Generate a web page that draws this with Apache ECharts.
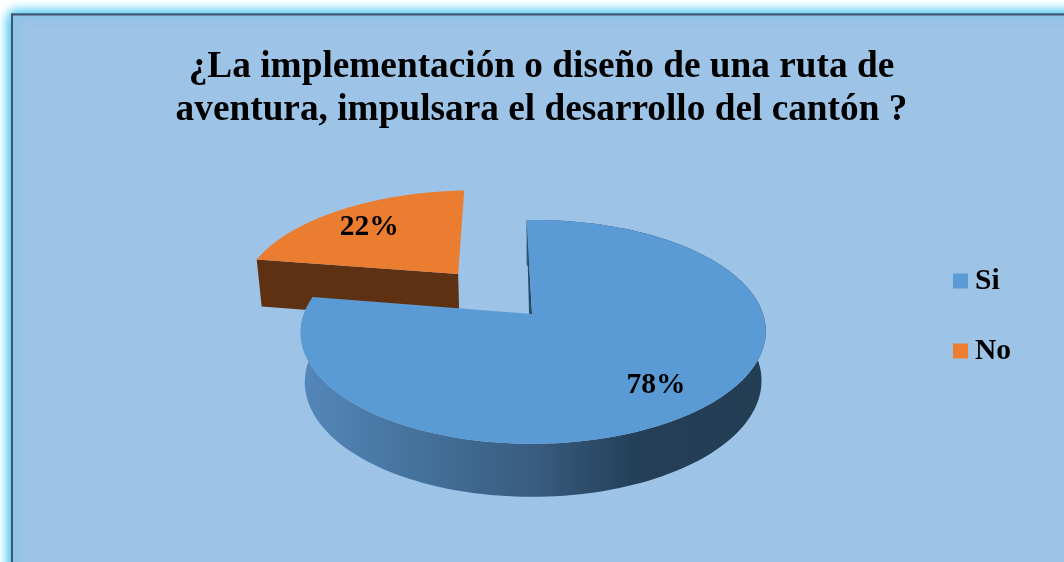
<!DOCTYPE html>
<html><head><meta charset="utf-8">
<style>html,body{margin:0;padding:0;background:#fff;overflow:hidden}#c{width:1064px;height:562px}</style>
<script src="https://cdn.jsdelivr.net/npm/echarts@6/dist/echarts.min.js"></script>
</head><body><div id="c"></div>
<script>
const titleLines = ['¿La implementación o diseño de una ruta de', 'aventura, impulsara el desarrollo del cantón ?'];
const categories = ['Si', 'No'];
const values = [78, 22];
const topColors = ['#5b9bd5', '#ed7d31'];

// perspective view of the pie disc
const view = {x0: 530, y0: 314, a: 229.5, b: 109, k: 0.16, j: -0.015, s: 2, thick: 48.9, thickK: 0.078, shrink: 0.982};
const startDeg = -1.5, explodeNo = 0.53, explodeLift = 0.96, labelRadii = [0.76, 0.74], labelDy = 2;
const total = values.reduce((p, c) => p + c, 0);

function project(u, v, lower) {
  const d = 1 + view.k * v + view.j * u;
  let x = (view.a * u + view.s * v) / d;
  let y = -view.b * v / d;
  if (lower) { x *= view.shrink; y += view.thick / (1 + view.thickK * v); }
  return [view.x0 + x, view.y0 + y];
}
function sliceGeom(i) {
  const before = values.slice(0, i).reduce((p, c) => p + c, 0);
  const start = startDeg * Math.PI / 180;
  const a0 = start + before / total * 2 * Math.PI, a1 = start + (before + values[i]) / total * 2 * Math.PI;
  const mid = (a0 + a1) / 2, dir = mid - start, e = i === 1 ? explodeNo : 0;
  return {a0, a1, mid, ox: e * Math.sin(dir), oy: e * explodeLift * Math.cos(dir)};
}
function rimPoint(g, a, lower) { return project(g.ox + Math.sin(a), g.oy + Math.cos(a), lower); }
function rim(g, from, to, lower) {
  const pts = [], n = 160;
  for (let t = 0; t <= n; t++) pts.push(rimPoint(g, from + (to - from) * t / n, lower));
  return pts;
}
function labelEl(i, g) {
  const r = labelRadii[i];
  const p = project(g.ox + r * Math.sin(g.mid), g.oy + r * Math.cos(g.mid));
  return {type: 'text', z2: 10, style: {text: Math.round(values[i] / total * 100) + '%', x: p[0], y: p[1] + labelDy, align: 'center', verticalAlign: 'middle', font: 'bold 29.5px "Liberation Serif"', fill: '#000'}};
}
function renderSi(params, api) {
  if (params.dataIndex !== 0) return null;
  const g = sliceGeom(0);
  const apex = project(0.009, 0);
  const topPts = [apex].concat(rim(g, g.a0, g.a1));
  const wall = rim(g, g.a0, g.a1, true).concat(rim(g, g.a0, g.a1).reverse());
  return {type: 'group', children: [
    {type: 'polygon', shape: {points: wall}, style: {fill: {type: 'linear', x: 0, y: 0, x2: 1, y2: 0, colorStops: [
      {offset: 0, color: '#5487ba'}, {offset: 0.25, color: '#44729c'}, {offset: 0.5, color: '#395c80'}, {offset: 0.72, color: '#243f58'}, {offset: 1, color: '#233d53'}]}}},
    {type: 'polygon', shape: {points: [rimPoint(g, g.a0), project(-0.004, 0), apex]}, style: {fill: '#264a68'}},
    {type: 'polygon', shape: {points: topPts}, style: {fill: topColors[0]}},
    labelEl(0, g)
  ]};
}
function renderNo(params, api) {
  if (params.dataIndex !== 0) return null;
  const g = sliceGeom(1);
  const apex = project(g.ox, g.oy), apexLow = project(g.ox, g.oy, true);
  const topPts = [apex].concat(rim(g, g.a0, g.a1));
  const cut = [apex, apexLow, rimPoint(g, g.a0, true), rimPoint(g, g.a0)];
  return {type: 'group', children: [
    {type: 'polygon', shape: {points: cut}, style: {fill: '#5f3113'}},
    {type: 'polygon', shape: {points: topPts}, style: {fill: '#eb7d30'}},
    labelEl(1, g)
  ]};
}
const panel = {type: 'rect', silent: true, z: -1, shape: {x: 12, y: 14.5, width: 1200, height: 800},
  style: {fill: '#9dc3e6', stroke: '#44546a', lineWidth: 2, shadowBlur: 12, shadowColor: '#45c4f2'}};
const chart = echarts.init(document.getElementById('c'), null, {renderer: 'canvas'});
chart.setOption({
  animation: false,
  backgroundColor: '#ffffff',
  graphic: [panel, Object.assign({}, panel, {z: -1})],
  title: {text: titleLines.join('\n'), left: 541.5, top: 46, padding: 0, textAlign: 'center',
    textStyle: {fontFamily: 'Liberation Serif', fontWeight: 'bold', fontSize: 37.3, lineHeight: 43, color: '#000'}},
  legend: {orient: 'vertical', left: 948, top: 261, itemWidth: 15, itemHeight: 15, itemGap: 40, icon: 'rect',
    data: categories, textStyle: {fontFamily: 'Liberation Serif', fontWeight: 'bold', fontSize: 29.5, color: '#000', padding: [0, 0, 0, 2]}},
  series: [
    {type: 'custom', name: categories[1], coordinateSystem: 'none', renderItem: renderNo, itemStyle: {color: topColors[1]}, data: [values[1]], z: 2, silent: true},
    {type: 'custom', name: categories[0], coordinateSystem: 'none', renderItem: renderSi, itemStyle: {color: topColors[0]}, data: [values[0]], z: 3, silent: true}
  ]
});
</script></body></html>
